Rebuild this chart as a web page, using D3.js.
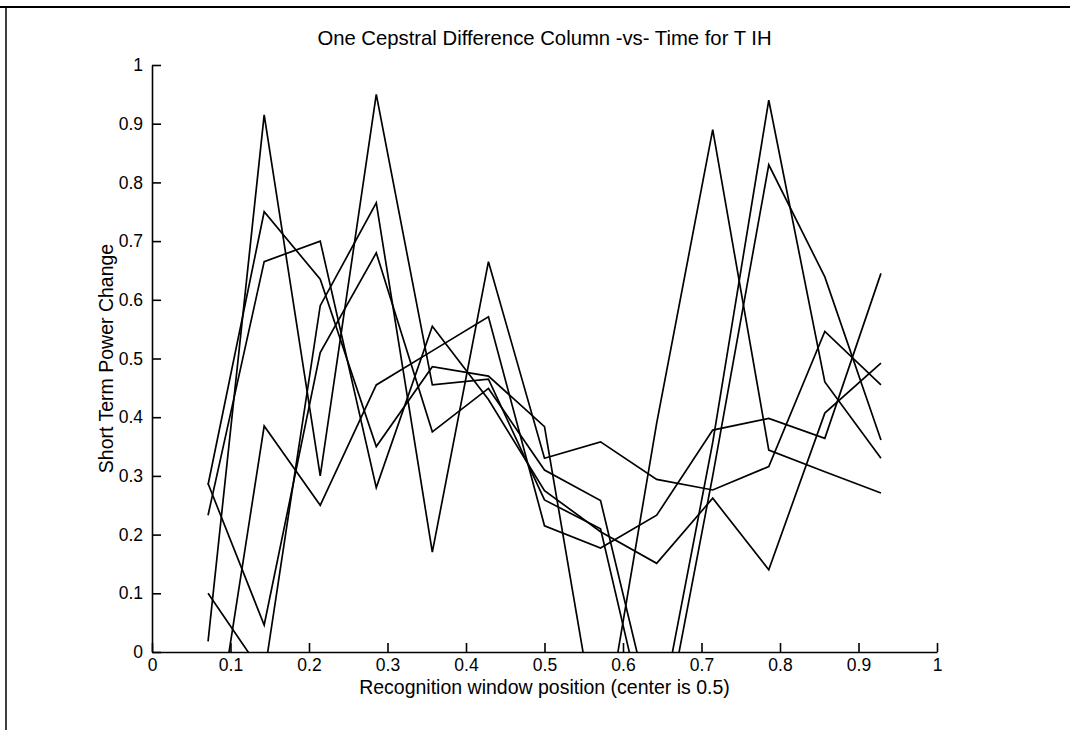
<!DOCTYPE html>
<html>
<head>
<meta charset="utf-8">
<script src="https://cdn.jsdelivr.net/npm/d3@7"></script>
<style>
  body { margin: 0; background: #fff; }
  svg { display: block; }
  text { font-family: "Liberation Sans", Arial, sans-serif; fill: #000; }
</style>
</head>
<body>
<div id="chart"></div>
<script>
const width = 1070;
const height = 730;
const margin = {top: 65, right: 133, bottom: 78, left: 152};

// window positions (x) shared by every curve
const positions = [0.0714, 0.1429, 0.2143, 0.2857, 0.3571, 0.4286, 0.5, 0.5714, 0.6429, 0.7143, 0.7857, 0.8571, 0.9286];

// six cepstral difference curves (values below 0 are clipped by the axes)
const seriesA = [0.287, 0.046, 0.51, 0.68, 0.375, 0.449, 0.31, 0.258, -0.14, 0.357, 0.94, 0.46, 0.33];
const seriesB = [0.285, 0.75, 0.635, 0.35, 0.486, 0.47, 0.384, -0.175, 0.39, 0.89, 0.344, 0.307, 0.271];
const seriesC = [0.233, 0.665, 0.70, 0.28, 0.555, 0.43, 0.275, 0.205, 0.151, 0.262, 0.14, 0.407, 0.492];
const seriesD = [0.1, -0.04, 0.59, 0.765, 0.17, 0.665, 0.33, 0.358, 0.294, 0.276, 0.316, 0.546, 0.455];
const seriesE = [0.018, 0.915, 0.30, 0.95, 0.455, 0.465, 0.259, 0.21, -0.2, 0.30, 0.83, 0.639, 0.361];
const seriesF = [-0.23, 0.385, 0.25, 0.455, 0.513, 0.571, 0.215, 0.177, 0.233, 0.378, 0.398, 0.364, 0.645];

const xTicks = [0, 0.1, 0.2, 0.3, 0.4, 0.5, 0.6, 0.7, 0.8, 0.9, 1];
const xTickLabels = ['0', '0.1', '0.2', '0.3', '0.4', '0.5', '0.6', '0.7', '0.8', '0.9', '1'];
const yTicks = [0, 0.1, 0.2, 0.3, 0.4, 0.5, 0.6, 0.7, 0.8, 0.9, 1];
const yTickLabels = ['0', '0.1', '0.2', '0.3', '0.4', '0.5', '0.6', '0.7', '0.8', '0.9', '1'];

const titleText = 'One Cepstral Difference Column -vs- Time for T IH';
const xLabel = 'Recognition window position (center is 0.5)';
const yLabel = 'Short Term Power Change';

let svg = d3.select('#chart')
    .append('svg')
    .attr('width', width)
    .attr('height', height);

// page frame (top and left edge of the scanned figure)
svg.append('line')
    .attr('x1', 0).attr('x2', width).attr('y1', 7).attr('y2', 7)
    .attr('stroke', '#000').attr('stroke-width', 2);
svg.append('line')
    .attr('x1', 6).attr('x2', 6).attr('y1', 7).attr('y2', height)
    .attr('stroke', '#000').attr('stroke-width', 1.5);

let x = d3.scaleLinear().domain([0, 1]).range([margin.left, width - margin.right]);
let y = d3.scaleLinear().domain([0, 1]).range([height - margin.bottom, margin.top]);

svg.append('defs').append('clipPath')
    .attr('id', 'plotclip')
    .append('rect')
    .attr('x', x(0)).attr('y', y(1))
    .attr('width', x(1) - x(0)).attr('height', y(0) - y(1));

let xAxis = d3.axisBottom(x)
    .tickValues(xTicks)
    .tickFormat((d, i) => xTickLabels[i])
    .tickSizeInner(-9)
    .tickSizeOuter(0)
    .tickPadding(7);

let yAxis = d3.axisLeft(y)
    .tickValues(yTicks)
    .tickFormat((d, i) => yTickLabels[i])
    .tickSizeInner(-9)
    .tickSizeOuter(0)
    .tickPadding(9);

let gx = svg.append('g')
    .attr('transform', `translate(0, ${y(0)})`)
    .call(xAxis);
let gy = svg.append('g')
    .attr('transform', `translate(${x(0)}, 0)`)
    .call(yAxis);

[gx, gy].forEach(g => {
    g.selectAll('path, line').attr('stroke', '#000').attr('stroke-width', 1.6);
    g.selectAll('text').style('font-size', '17.5px').attr('fill', '#000');
});

// curves
let curves = [seriesA, seriesB, seriesC, seriesD, seriesE, seriesF];
let lineGen = d3.line()
    .x((d, i) => x(positions[i]))
    .y(d => y(d));

svg.append('g')
    .attr('clip-path', 'url(#plotclip)')
    .selectAll('path')
    .data(curves)
    .enter()
    .append('path')
    .attr('d', lineGen)
    .attr('fill', 'none')
    .attr('stroke', '#000')
    .attr('stroke-width', 1.7)
    .attr('stroke-linejoin', 'miter');

// title and axis labels (MATLAB style: title sits just above the axes)
svg.append('text')
    .attr('x', (x(0) + x(1)) / 2)
    .attr('y', 45)
    .attr('text-anchor', 'middle')
    .style('font-size', '20.3px')
    .text(titleText);

svg.append('text')
    .attr('x', (x(0) + x(1)) / 2)
    .attr('y', 694)
    .attr('text-anchor', 'middle')
    .style('font-size', '19.5px')
    .text(xLabel);

svg.append('text')
    .attr('transform', `translate(113, ${(y(0) + y(1)) / 2}) rotate(-90)`)
    .attr('text-anchor', 'middle')
    .style('font-size', '19.5px')
    .text(yLabel);
</script>
</body>
</html>
